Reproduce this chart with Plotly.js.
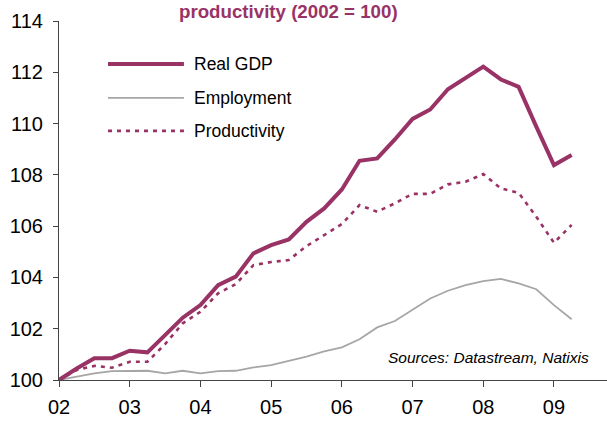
<!DOCTYPE html>
<html>
<head>
<meta charset="utf-8">
<script src="https://cdn.plot.ly/plotly-3.0.1.min.js"></script>
<style>
html,body{margin:0;padding:0;background:#fff;}
#chart{width:607px;height:421px;}
</style>
</head>
<body>
<div id="chart"></div>
<script>
// Quarterly observations (year fractions), 2002Q1 .. 2009Q2
var quarters = [2002.00, 2002.25, 2002.50, 2002.75,
                2003.00, 2003.25, 2003.50, 2003.75,
                2004.00, 2004.25, 2004.50, 2004.75,
                2005.00, 2005.25, 2005.50, 2005.75,
                2006.00, 2006.25, 2006.50, 2006.75,
                2007.00, 2007.25, 2007.50, 2007.75,
                2008.00, 2008.25, 2008.50, 2008.75,
                2009.00, 2009.25];
var realGDP = [100.00, 100.45, 100.85, 100.85,
               101.14, 101.08, 101.75, 102.43,
               102.92, 103.70, 104.03, 104.94,
               105.26, 105.48, 106.17, 106.69,
               107.43, 108.55, 108.64, 109.38,
               110.18, 110.55, 111.34, 111.76,
               112.22, 111.72, 111.43, 109.88,
               108.38, 108.77];
var employment = [100.00, 100.13, 100.26, 100.35,
                  100.36, 100.36, 100.26, 100.36,
                  100.26, 100.35, 100.36, 100.49,
                  100.58, 100.75, 100.91, 101.12,
                  101.27, 101.59, 102.05, 102.30,
                  102.73, 103.18, 103.48, 103.70,
                  103.86, 103.94, 103.77, 103.54,
                  102.92, 102.37];
var productivity = [100.00, 100.39, 100.55, 100.48,
                    100.71, 100.71, 101.40, 102.21,
                    102.66, 103.38, 103.74, 104.48,
                    104.60, 104.68, 105.22, 105.65,
                    106.08, 106.82, 106.56, 106.89,
                    107.26, 107.26, 107.63, 107.73,
                    108.03, 107.47, 107.30, 106.37,
                    105.35, 106.05];
var seriesNames = ["Real GDP", "Employment", "Productivity"];
var xTickVals = [2002, 2003, 2004, 2005, 2006, 2007, 2008, 2009];
var xTickText = ["02", "03", "04", "05", "06", "07", "08", "09"];
var yTickVals = [100, 102, 104, 106, 108, 110, 112, 114];
var titleText = "productivity (2002 = 100)";
var sourceText = "Sources: Datastream, Natixis";

var PLUM = "#993366";
var GREY = "#A6A6A6";
var styles = [
  {color: PLUM, width: 4, dash: "solid"},
  {color: GREY, width: 1.8, dash: "solid"},
  {color: PLUM, width: 2.6, dash: "4px,5px"}
];
var seriesData = [realGDP, employment, productivity];

var traces = seriesData.map(function (ys, i) {
  return {
    x: quarters, y: ys, type: "scatter", mode: "lines", name: seriesNames[i],
    line: {color: styles[i].color, width: styles[i].width, dash: styles[i].dash},
    showlegend: false, hoverinfo: "skip"
  };
});
// draw grey first, then productivity, then GDP on top
traces = [traces[1], traces[2], traces[0]];

var FONT = "Liberation Sans, Arial, sans-serif";
var legendRows = [0.880, 0.786, 0.694];
var shapes = [];
var annotations = [];
for (var i = 0; i < 3; i++) {
  shapes.push({
    type: "line", xref: "paper", yref: "paper",
    x0: 0.0894, x1: 0.228, y0: legendRows[i], y1: legendRows[i],
    line: {color: styles[i].color, width: styles[i].width, dash: styles[i].dash}
  });
  annotations.push({
    xref: "paper", yref: "paper", x: 0.2427, y: legendRows[i],
    xanchor: "left", yanchor: "middle", text: seriesNames[i], showarrow: false,
    font: {family: FONT, size: 17.5, color: "#000"}
  });
}
annotations.push({
  xref: "paper", yref: "paper", x: 0.783, y: 0.064,
  xanchor: "center", yanchor: "middle", text: "<i>" + sourceText + "</i>",
  showarrow: false, font: {family: FONT, size: 15.5, color: "#000"}
});

var layout = {
  width: 607, height: 421,
  margin: {l: 59, r: 0, t: 21, b: 41},
  paper_bgcolor: "#fff", plot_bgcolor: "#fff",
  showlegend: false,
  title: {
    text: "<b>" + titleText + "</b>",
    font: {family: FONT, size: 18.7, color: PLUM},
    xref: "container", yref: "container", x: 0.475, y: 0.972,
    xanchor: "center", yanchor: "middle"
  },
  xaxis: {
    range: [2002, 2009.75], tickvals: xTickVals, ticktext: xTickText,
    showgrid: false, zeroline: false, showline: true,
    linecolor: "#444", linewidth: 1,
    ticks: "outside", ticklen: 6, tickcolor: "#444", tickwidth: 1,
    ticklabelstandoff: 3,
    tickfont: {family: FONT, size: 20, color: "#000"}
  },
  yaxis: {
    range: [100, 114], tickvals: yTickVals,
    showgrid: false, zeroline: false, showline: true,
    linecolor: "#444", linewidth: 1,
    ticks: "outside", ticklen: 5, tickcolor: "#444", tickwidth: 1,
    ticklabelstandoff: 6,
    tickfont: {family: FONT, size: 20, color: "#000"}
  },
  shapes: shapes,
  annotations: annotations
};

Plotly.newPlot("chart", traces, layout, {displayModeBar: false, staticPlot: true});
</script>
</body>
</html>
